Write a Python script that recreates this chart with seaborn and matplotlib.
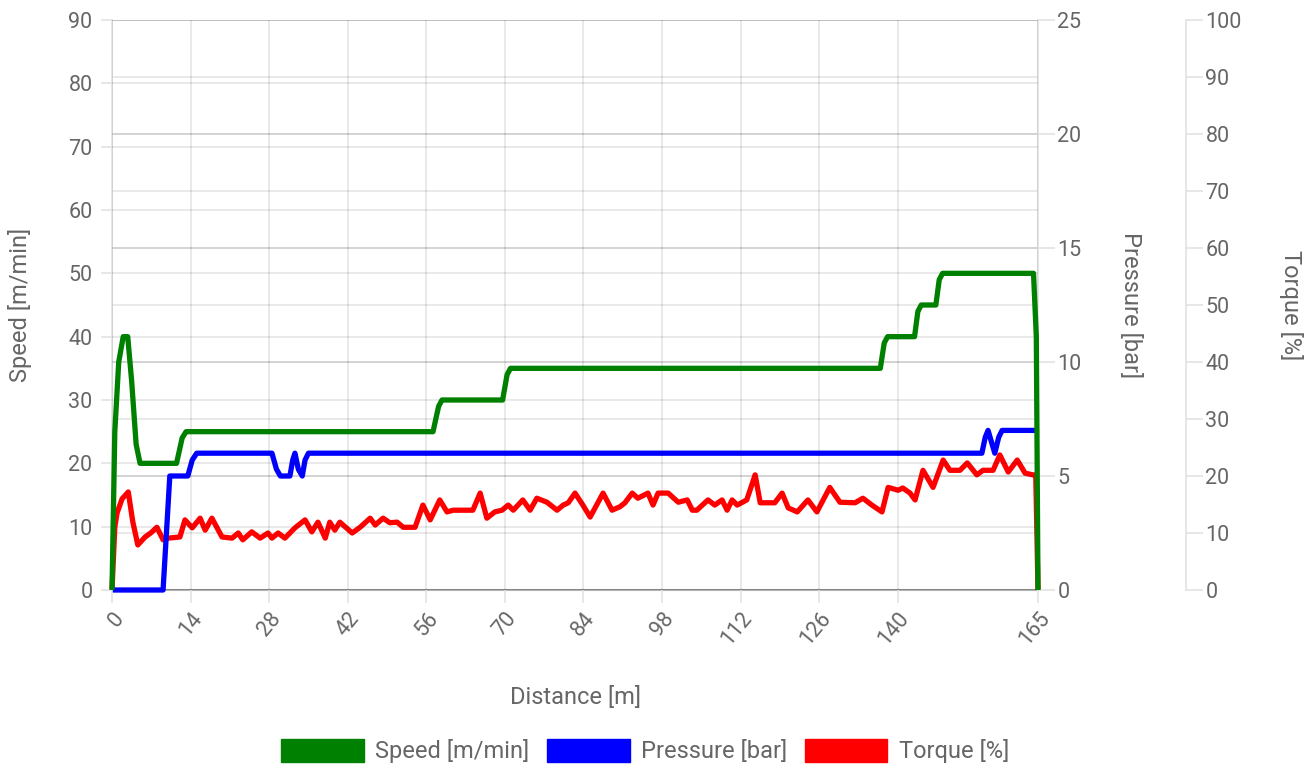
import matplotlib
matplotlib.use("Agg")
import matplotlib.pyplot as plt
from matplotlib.patches import Patch
import seaborn as sns
import pandas as pd

# ---------------- data ----------------
speed_dist = [0, 0.5, 1.2, 2.0, 2.8, 3.5, 4.3, 5.0, 11.5, 12.5, 13.2, 57.2, 58.2, 58.8,
              69.6, 70.4, 71.0, 136.9, 137.6, 138.2, 143.0, 143.6, 144.2, 146.8, 147.4,
              148.0, 164.2, 164.7, 165]
speed_vals = [0, 25, 36, 40, 40, 33, 23, 20, 20, 24, 25, 25, 29, 30,
              30, 34, 35, 35, 39, 40, 40, 44, 45, 45, 49,
              50, 50, 40, 0]

pressure_dist = [0, 9.1, 10.3, 13.5, 14.3, 15.1, 28.5, 29.3, 30.0, 31.7, 32.2, 32.6,
                 33.2, 33.9, 34.4, 35.0, 155.0, 155.6, 156.1, 156.7, 157.3, 158.0,
                 158.6, 165]
pressure_vals = [0, 0, 5, 5, 5.7, 6, 6, 5.3, 5, 5, 5.7, 6,
                 5.3, 5, 5.7, 6, 6, 6.7, 7, 6.5, 6, 6.7,
                 7, 7]

torque_dist = [0, 0.5, 0.9, 1.8, 2.9, 3.7, 4.6, 5.9, 6.9, 8.0, 9.1, 10.0, 12.1, 13.0,
               14.3, 15.7, 16.6, 17.8, 19.6, 21.4, 22.5, 23.3, 24.9, 26.4, 27.8, 28.5,
               29.6, 30.8, 32.6, 34.4, 35.6, 36.7, 38.0, 38.8, 39.7, 40.6, 42.8, 44.2,
               46.0, 46.9, 48.3, 49.5, 50.8, 51.9, 54.0, 55.4, 56.7, 58.4, 59.7, 60.8,
               64.3, 65.6, 66.8, 68.2, 69.5, 70.6, 71.5, 73.2, 74.5, 75.7, 77.5, 79.3,
               80.4, 81.3, 82.5, 83.9, 85.2, 87.5, 89.1, 90.5, 91.4, 92.7, 93.7, 95.5,
               96.4, 97.3, 99.1, 100.9, 102.5, 103.4, 104.2, 106.2, 107.4, 108.7, 109.6,
               110.5, 111.4, 113.1, 114.6, 115.5, 118.1, 119.4, 120.5, 122.1, 124.0,
               125.6, 127.9, 129.7, 132.4, 133.8, 135.4, 137.2, 138.3, 140.1, 140.9,
               142.2, 143.1, 144.5, 146.3, 148.1, 149.3, 151.1, 152.4, 154.1, 155.2,
               157.0, 158.2, 159.7, 161.3, 162.7, 164.1, 164.6, 165]
torque_vals = [0, 11, 13.5, 16, 17.2, 12, 7.9, 9.3, 10, 11, 8.8, 9.1, 9.3, 12.3,
               10.9, 12.6, 10.5, 12.6, 9.3, 9.1, 10, 8.8, 10.2, 9.1, 10, 9.1,
               10, 9.1, 10.9, 12.3, 10.2, 11.9, 9.1, 11.9, 10.5, 11.9, 10, 11,
               12.6, 11.4, 12.6, 11.8, 11.9, 11, 11, 14.9, 12.3, 15.8, 13.7, 14,
               14, 17, 12.6, 13.7, 14, 14.9, 14, 15.8, 14, 16.1, 15.4, 14,
               14.9, 15.3, 17, 14.9, 12.8, 17, 14, 14.6, 15.3, 17, 16.1, 17,
               14.9, 17, 17, 15.4, 15.8, 14, 14, 15.8, 14.9, 15.8, 14,
               15.8, 14.9, 15.8, 20.2, 15.3, 15.3, 17, 14.4, 13.7, 15.8,
               13.7, 18, 15.4, 15.3, 16.1, 14.9, 13.7, 18, 17.5, 17.9,
               17, 15.8, 21, 18, 22.8, 21, 21, 22.3, 20.2, 21,
               21, 23.7, 20.7, 22.8, 20.5, 20.2, 20.2, 0]

x_ticks = [0, 14, 28, 42, 56, 70, 84, 98, 112, 126, 140, 165]
speed_ticks = list(range(0, 91, 10))
pressure_ticks = list(range(0, 26, 5))
torque_ticks = list(range(0, 101, 10))

labels = ["Speed [m/min]", "Pressure [bar]", "Torque [%]"]
colors = ["#008000", "#0000ff", "#ff0000"]

# ---------------- styling ----------------
sns.set_theme(style="white")
plt.rcParams["font.family"] = ["Roboto", "DejaVu Sans"]
TXT = "#666666"
TICKC = "#e3e3e3"
FS = 15.5     # tick labels
FT = 17       # titles / legend

fig = plt.figure(figsize=(13.16, 7.68), dpi=100)
L, R, B, T = 112 / 1316, 1038 / 1316, 1 - 590 / 768, 1 - 20 / 768
ax = fig.add_axes([L, B, R - L, T - B])
ax2 = ax.twinx()
ax3 = ax.twinx()
ax3.spines["right"].set_position(("axes", (1186 - 112) / 926))

ax.set_zorder(3)
ax2.set_zorder(2)
ax3.set_zorder(1)
ax.patch.set_visible(False)
ax2.patch.set_visible(False)

df_s = pd.DataFrame({"d": speed_dist, "v": speed_vals})
df_p = pd.DataFrame({"d": pressure_dist, "v": pressure_vals})
df_t = pd.DataFrame({"d": torque_dist, "v": torque_vals})

lw = 3.8
for a, df, c in [(ax, df_s, colors[0]), (ax2, df_p, colors[1]), (ax3, df_t, colors[2])]:
    sns.lineplot(data=df, x="d", y="v", ax=a, color=c, linewidth=lw, sort=False,
                 estimator=None, solid_joinstyle="round", solid_capstyle="butt")
    for ln in a.get_lines():
        ln.set_clip_on(False)
    a.set_xlabel("")
    a.set_ylabel("")

ax.set_xlim(0, 165)
ax.set_ylim(0, 90)
ax2.set_ylim(0, 25)
ax3.set_ylim(0, 100)

ax.set_xticks(x_ticks)
ax.set_xticklabels([str(t) for t in x_ticks], rotation=50, ha="right",
                   rotation_mode="anchor")
ax.set_yticks(speed_ticks)
ax.set_yticklabels([str(t) for t in speed_ticks])
ax2.set_yticks(pressure_ticks)
ax2.set_yticklabels([str(t) for t in pressure_ticks])
ax3.set_yticks(torque_ticks)
ax3.set_yticklabels([str(t) for t in torque_ticks])

common = dict(width=1.2, color=TICKC, labelcolor=TXT, labelsize=FS,
              grid_color="black", grid_alpha=0.1, grid_linewidth=1.2)
ax.tick_params(axis="x", length=9, pad=4, bottom=True, **common)
ax.tick_params(axis="y", length=8, pad=6, left=True, **common)
ax2.tick_params(axis="y", length=12, pad=2, right=True, **common)
ax3.tick_params(axis="y", length=12, pad=2, right=True, **common)
ax2.tick_params(axis="x", bottom=False, labelbottom=False)
ax3.tick_params(axis="x", bottom=False, labelbottom=False)

ax.grid(True, axis="both")
ax2.grid(True, axis="y")
ax3.grid(True, axis="y")
ax2.grid(False, axis="x")
ax3.grid(False, axis="x")

for a in (ax, ax2, ax3):
    for s in a.spines.values():
        s.set_visible(False)
ax3.spines["left"].set_visible(True)
ax3.spines["left"].set_color(TICKC)
ax3.spines["bottom"].set_visible(True)
ax3.spines["bottom"].set_color("#b3b3b3")
ax3.spines["bottom"].set_linewidth(1.5)
ax3.spines["bottom"].set_zorder(0.5)
ax2.spines["right"].set_visible(True)
ax2.spines["right"].set_color(TICKC)
ax3.spines["right"].set_visible(True)
ax3.spines["right"].set_color(TICKC)

# axis titles
ax.text((20 - 112) / 926, 0.5, labels[0], transform=ax.transAxes, rotation=90,
        ha="center", va="center", color=TXT, fontsize=FT)
ax.text((1131 - 112) / 926, 0.5, labels[1], transform=ax.transAxes, rotation=270,
        ha="center", va="center", color=TXT, fontsize=FT)
ax.text((1291 - 112) / 926, 0.5, labels[2], transform=ax.transAxes, rotation=270,
        ha="center", va="center", color=TXT, fontsize=FT)
ax.text(0.5, (590 - 697) / 570, "Distance [m]", transform=ax.transAxes,
        ha="center", va="center", color=TXT, fontsize=FT)

handles = [Patch(facecolor=c, edgecolor=c) for c in colors]
fig.legend(handles, labels, loc="center", bbox_to_anchor=(645 / 1316, 1 - 751 / 768),
           ncol=3, frameon=False, fontsize=FT, labelcolor=TXT,
           handlelength=3.5, handleheight=1.15, handletextpad=0.47, columnspacing=0.76)

fig.savefig("out.png", dpi=100)
